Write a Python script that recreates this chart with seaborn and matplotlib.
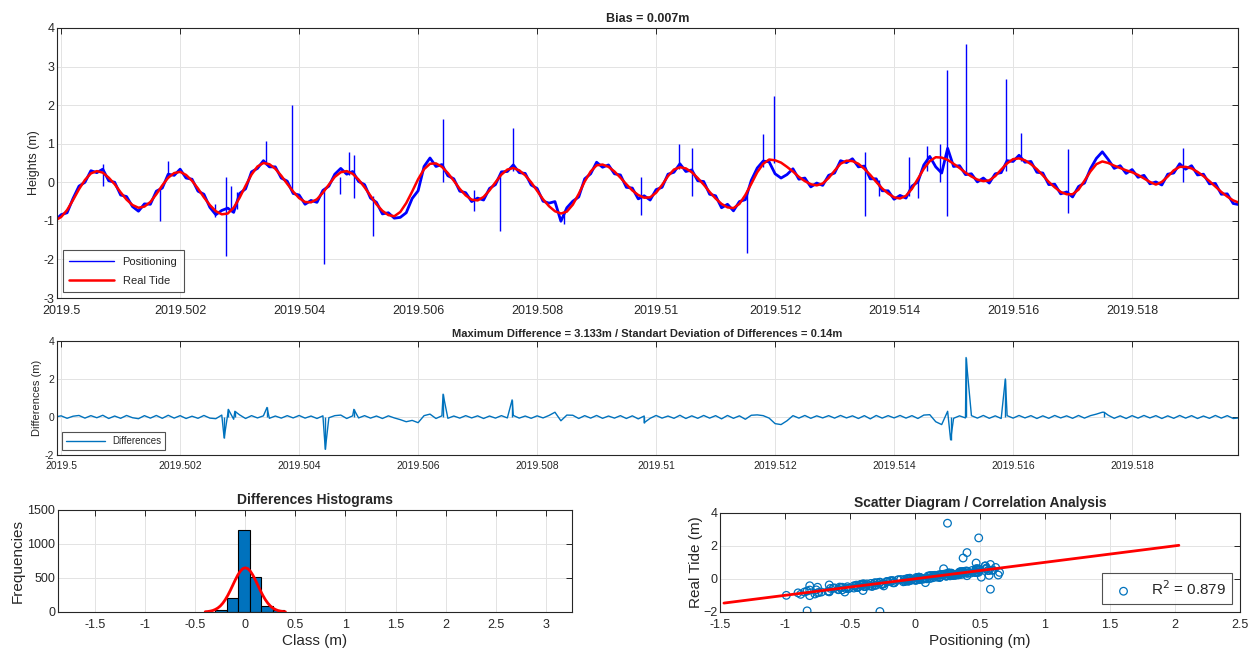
import numpy as np
import pandas as pd
import matplotlib
matplotlib.use("Agg")
import matplotlib.pyplot as plt
import seaborn as sns
from matplotlib.ticker import FixedLocator, FuncFormatter

# ---------------- data ----------------
t_start = 2019.4999
t_step = 0.0001

tide = [-0.99, -0.90, -0.72, -0.46, -0.18, 0.06, 0.23, 0.29, 0.25, 0.12,
        -0.05, -0.26, -0.45, -0.59, -0.66, -0.63, -0.51, -0.31, -0.08, 0.12,
        0.24, 0.27, 0.19, 0.04, -0.16, -0.39, -0.59, -0.75, -0.83, -0.81,
        -0.66, -0.40, -0.09, 0.20, 0.41, 0.50, 0.47, 0.35, 0.17, -0.04,
        -0.24, -0.41, -0.51, -0.52, -0.44, -0.27, -0.06, 0.14, 0.26, 0.29,
        0.22, 0.07, -0.13, -0.35, -0.57, -0.74, -0.85, -0.88, -0.77, -0.54,
        -0.24, 0.08, 0.34, 0.48, 0.49, 0.40, 0.24, 0.04, -0.17, -0.34,
        -0.45, -0.47, -0.38, -0.21, 0.00, 0.20, 0.33, 0.37, 0.31, 0.18,
        0.00, -0.22, -0.44, -0.62, -0.75, -0.81, -0.76, -0.58, -0.30, 0.02,
        0.28, 0.44, 0.46, 0.40, 0.28, 0.12, -0.05, -0.21, -0.33, -0.40,
        -0.39, -0.27, -0.07, 0.16, 0.33, 0.39, 0.36, 0.26, 0.11, -0.06,
        -0.25, -0.42, -0.56, -0.65, -0.67, -0.56, -0.33, -0.04, 0.26, 0.48,
        0.59, 0.57, 0.51, 0.40, 0.28, 0.14, 0.03, -0.05, -0.08, -0.03,
        0.11, 0.30, 0.48, 0.56, 0.55, 0.48, 0.35, 0.19, 0.01, -0.16,
        -0.29, -0.39, -0.42, -0.35, -0.17, 0.09, 0.35, 0.55, 0.65, 0.64,
        0.58, 0.48, 0.37, 0.25, 0.15, 0.07, 0.03, 0.05, 0.16, 0.33,
        0.49, 0.60, 0.62, 0.57, 0.47, 0.34, 0.18, 0.01, -0.13, -0.25,
        -0.31, -0.31, -0.19, 0.04, 0.28, 0.47, 0.54, 0.50, 0.43, 0.37,
        0.31, 0.26, 0.19, 0.10, 0.01, -0.06, 0.01, 0.15, 0.31, 0.40,
        0.40, 0.36, 0.27, 0.16, 0.03, -0.11, -0.25, -0.37, -0.47, -0.53]

# positioning minus tide at the same samples (cm)
diff_cm = [0, 6, -7, 4, 8, -6, 7, -4, 9, -8,
           5, -7, 8, -4, -9, 7, -6, 8, -7, 9,
           -6, 7, -8, 4, -7, 8, -6, -9, 10, 14,
           -12, 11, -8, 7, -5, 6, -7, 5, -6, 7,
           -5, 8, -6, 5, -8, 6, -4, 7, 10, -8,
           6, -5, 7, -6, 5, -8, 6, -5, -14, -25,
           -18, -30, 7, 15, -8, 6, -7, 5, -6, 7,
           -5, 6, -8, 5, -6, 7, -5, 8, -6, 5,
           -7, 6, -5, 8, 25, -20, 10, 9, -8, 7,
           -6, 8, -7, 5, -6, 7, -8, 6, -10, 5,
           -7, 8, -6, 5, -7, 9, -8, 6, -7, 8,
           -6, 7, -10, 8, -7, 6, -12, 9, 11, 7,
           -6, -35, -40, -20, 7, -6, 8, -7, 6, -5,
           7, -6, 8, -5, 6, -8, 7, -10, 8, -6,
           7, -5, 8, -6, 7, -8, 10, 12, -25, -40,
           30, -7, 6, -5, 7, -6, 8, -7, 6, -8,
           7, -6, 8, -5, 7, -8, 6, -7, 8, -5,
           6, -7, 8, -6, 7, 15, 25, 9, -7, 6,
           -8, 7, -6, 8, -5, 7, -8, 6, -7, 8,
           -6, 7, -8, 5, -7, 8, -6, 7, -8, -5]

# outliers of the positioning record (time, lowest, highest height)
pos_spike_t = [2019.50071, 2019.50166, 2019.50180, 2019.50259, 2019.50277, 2019.50285,
               2019.50295, 2019.50344, 2019.50388, 2019.50442, 2019.50469, 2019.50484,
               2019.50492, 2019.50524, 2019.50642, 2019.50694, 2019.50738, 2019.50760,
               2019.50845, 2019.50975, 2019.51039, 2019.51060, 2019.51153, 2019.51180,
               2019.51198, 2019.51351, 2019.51375, 2019.51425, 2019.51440, 2019.51455,
               2019.51478, 2019.51489, 2019.51521, 2019.51588, 2019.51613, 2019.51692,
               2019.51886]
pos_spike_low = [-0.10, -1.01, 0.10, -0.90, -1.92, -0.75, -0.70, 0.45, -0.25, -2.12,
                 -0.30, 0.20, -0.40, -1.40, 0.00, -0.75, -1.27, 0.30, -1.07, -0.84,
                 0.35, -0.36, -1.83, 0.40, 0.50, -0.88, -0.35, -0.35, -0.40, 0.30,
                 0.00, -0.88, 0.20, 0.30, 0.55, -0.80, 0.00]
pos_spike_high = [0.47, -0.15, 0.55, -0.55, 0.13, -0.10, -0.25, 1.06, 2.00, -0.20,
                  0.15, 0.78, 0.70, -0.35, 1.63, -0.20, 0.20, 1.42, -0.75, 0.15,
                  1.00, 0.88, -0.20, 1.25, 2.23, 0.78, 0.05, 0.65, 0.10, 0.93,
                  1.00, 2.90, 3.58, 2.67, 1.27, 0.86, 0.90]

# spikes of the differences record (time, value)
diff_spike_t = [2019.50274, 2019.50281, 2019.50292, 2019.50346, 2019.50444, 2019.50492,
                2019.50642, 2019.50758, 2019.50980, 2019.51495, 2019.51521, 2019.51587,
                2019.51753]
diff_spike_v = [-1.10, 0.40, 0.30, 0.50, -1.70, 0.40, 1.20, 0.90, -0.30, -1.20,
                3.13, 2.00, 0.25]

# histogram of differences
hist_edges = [-0.30, -0.185, -0.07, 0.045, 0.16, 0.275, 0.39]
hist_counts = [25, 205, 1210, 510, 95, 25]
fit_x = [-0.40, -0.375, -0.35, -0.325, -0.30, -0.275, -0.25, -0.225, -0.20, -0.175,
         -0.15, -0.125, -0.10, -0.075, -0.05, -0.025, 0.0, 0.025, 0.05, 0.075,
         0.10, 0.125, 0.15, 0.175, 0.20, 0.225, 0.25, 0.275, 0.30, 0.325,
         0.35, 0.375, 0.40]
fit_y = [4, 7, 13, 22, 37, 58, 88, 129, 181, 244, 316, 394, 472, 543, 600, 637, 650,
         637, 600, 543, 472, 394, 316, 244, 181, 129, 88, 58, 37, 22, 13, 7, 4]

# regression line of scatter
reg_slope = 1.0
reg_intercept = 0.01
reg_xrange = [-1.47, 2.03]

time_ticks = [2019.5, 2019.502, 2019.504, 2019.506, 2019.508, 2019.51,
              2019.512, 2019.514, 2019.516, 2019.518]
time_tick_labels = ["2019.5", "2019.502", "2019.504", "2019.506", "2019.508",
                    "2019.51", "2019.512", "2019.514", "2019.516", "2019.518"]

# ---------------- derived ----------------
tide = np.array(tide)
diff = np.array(diff_cm) / 100.0
time = np.round(t_start + t_step * np.arange(len(tide)), 5)
positioning = tide + diff

spike_idx = np.rint((np.array(diff_spike_t) - t_start) / t_step).astype(int)
sc_x = np.concatenate([tide, tide[spike_idx]])
sc_y = np.concatenate([positioning, tide[spike_idx] + np.array(diff_spike_v)])

dser = pd.DataFrame({"t": np.concatenate([time, diff_spike_t]),
                     "d": np.concatenate([diff, diff_spike_v])}).sort_values("t")

# ---------------- style ----------------
sns.set_theme(style="white")
plt.rcParams["font.family"] = ["Liberation Sans", "DejaVu Sans"]
EDGE = "#262626"
GRID = "#e3e3e3"
MBLUE = (0.0, 0.447, 0.741)


def matlab_axes(ax, fs, xpad=2):
    for s in ax.spines.values():
        s.set_color(EDGE)
        s.set_linewidth(0.8)
    ax.tick_params(direction="in", length=4, width=0.7, colors=EDGE,
                   top=True, right=True, labelsize=fs, pad=2)
    ax.tick_params(axis="x", pad=xpad)
    ax.grid(True, color=GRID, linewidth=0.7)
    ax.set_axisbelow(True)


fig = plt.figure(figsize=(12.52, 6.57), dpi=100)
fig.patch.set_facecolor("white")

gfmt = FuncFormatter(lambda v, p: f"{v:g}")

# ---- top: heights ----
ax1 = fig.add_axes([0.0455, 0.5464, 0.9433, 0.4110])
matlab_axes(ax1, 9, xpad=5)
ax1.vlines(pos_spike_t, pos_spike_low, pos_spike_high, color="blue", lw=1.0)
sns.lineplot(x=time, y=positioning, color="blue", lw=2.0, ax=ax1, label="Positioning",
             estimator=None, sort=False)
sns.lineplot(x=time, y=tide, color="red", lw=1.8, ax=ax1, label="Real Tide",
             estimator=None, sort=False)
ax1.set_xlim(2019.49993, 2019.51978)
ax1.set_ylim(-3, 4)
ax1.xaxis.set_major_locator(FixedLocator(time_ticks))
ax1.set_xticklabels(time_tick_labels)
ax1.set_yticks([-3, -2, -1, 0, 1, 2, 3, 4])
ax1.yaxis.set_major_formatter(gfmt)
ax1.set_ylabel("Heights (m)", fontsize=9, labelpad=2)
ax1.set_title("Bias = 0.007m", fontsize=9, fontweight="bold", pad=4)
leg = ax1.legend(loc="lower left", fontsize=8, frameon=True, fancybox=False,
                 edgecolor=EDGE, borderpad=0.6, handlelength=4, labelspacing=0.8,
                 borderaxespad=0.5)
leg.get_frame().set_linewidth(0.8)
leg.get_lines()[0].set_linewidth(1.0)

# ---- middle: differences ----
ax2 = fig.add_axes([0.0455, 0.3075, 0.9433, 0.1735])
matlab_axes(ax2, 7.5, xpad=4)
ax2.vlines(diff_spike_t, 0, diff_spike_v, color=MBLUE, lw=1.0)
sns.lineplot(data=dser, x="t", y="d", color=MBLUE, lw=1.0, ax=ax2, label="Differences",
             estimator=None, sort=False)
ax2.set_xlim(2019.49993, 2019.51978)
ax2.set_ylim(-2, 4)
ax2.xaxis.set_major_locator(FixedLocator(time_ticks))
ax2.set_xticklabels(time_tick_labels)
ax2.set_yticks([-2, 0, 2, 4])
ax2.yaxis.set_major_formatter(gfmt)
ax2.set_xlabel("")
ax2.set_ylabel("Differences (m)", fontsize=8, labelpad=2)
ax2.set_title("Maximum Difference = 3.133m / Standart Deviation of Differences = 0.14m",
              fontsize=8, fontweight="bold", pad=3)
leg2 = ax2.legend(loc="lower left", fontsize=7, frameon=True, fancybox=False,
                  edgecolor=EDGE, borderpad=0.4, handlelength=4)
leg2.get_frame().set_linewidth(0.8)

# ---- bottom left: histogram ----
ax3 = fig.add_axes([0.0463, 0.0685, 0.4105, 0.1553])
matlab_axes(ax3, 9, xpad=5)
centers = [(hist_edges[i] + hist_edges[i + 1]) / 2 for i in range(len(hist_counts))]
sns.histplot(x=centers, weights=hist_counts, bins=hist_edges, color=MBLUE, alpha=1.0,
             edgecolor="black", linewidth=0.8, ax=ax3)
sns.lineplot(x=fit_x, y=fit_y, color="red", lw=2.0, ax=ax3, estimator=None, sort=False)
ax3.set_xlim(-1.87, 3.26)
ax3.set_ylim(0, 1500)
ax3.set_xticks([-1.5, -1, -0.5, 0, 0.5, 1, 1.5, 2, 2.5, 3])
ax3.xaxis.set_major_formatter(gfmt)
ax3.set_yticks([0, 500, 1000, 1500])
ax3.set_xlabel("Class (m)", fontsize=11, labelpad=2)
ax3.set_ylabel("Frequencies", fontsize=11, labelpad=2)
ax3.set_title("Differences Histograms", fontsize=10, fontweight="bold", pad=4)

# ---- bottom right: scatter ----
ax4 = fig.add_axes([0.5751, 0.0685, 0.4153, 0.1507])
matlab_axes(ax4, 9, xpad=5)
sns.scatterplot(x=sc_x, y=sc_y, ax=ax4, marker="o", s=30, facecolors="none",
                edgecolor=MBLUE, linewidth=0.9, label="R$^2$ = 0.879")
reg_y = [reg_slope * v + reg_intercept for v in reg_xrange]
sns.lineplot(x=reg_xrange, y=reg_y, color="red", lw=2.0, ax=ax4, estimator=None,
             sort=False)
ax4.set_xlim(-1.5, 2.5)
ax4.set_ylim(-2, 4)
ax4.set_xticks([-1.5, -1, -0.5, 0, 0.5, 1, 1.5, 2, 2.5])
ax4.xaxis.set_major_formatter(gfmt)
ax4.set_yticks([-2, 0, 2, 4])
ax4.set_xlabel("Positioning (m)", fontsize=11, labelpad=2)
ax4.set_ylabel("Real Tide (m)", fontsize=11, labelpad=0)
ax4.set_title("Scatter Diagram / Correlation Analysis", fontsize=10, fontweight="bold", pad=4)
leg4 = ax4.legend(loc="lower right", fontsize=11, frameon=True, fancybox=False,
                  edgecolor=EDGE, borderpad=0.4, handletextpad=0.8)
leg4.get_frame().set_linewidth(0.8)

fig.savefig("out.png", dpi=100, facecolor="white")
